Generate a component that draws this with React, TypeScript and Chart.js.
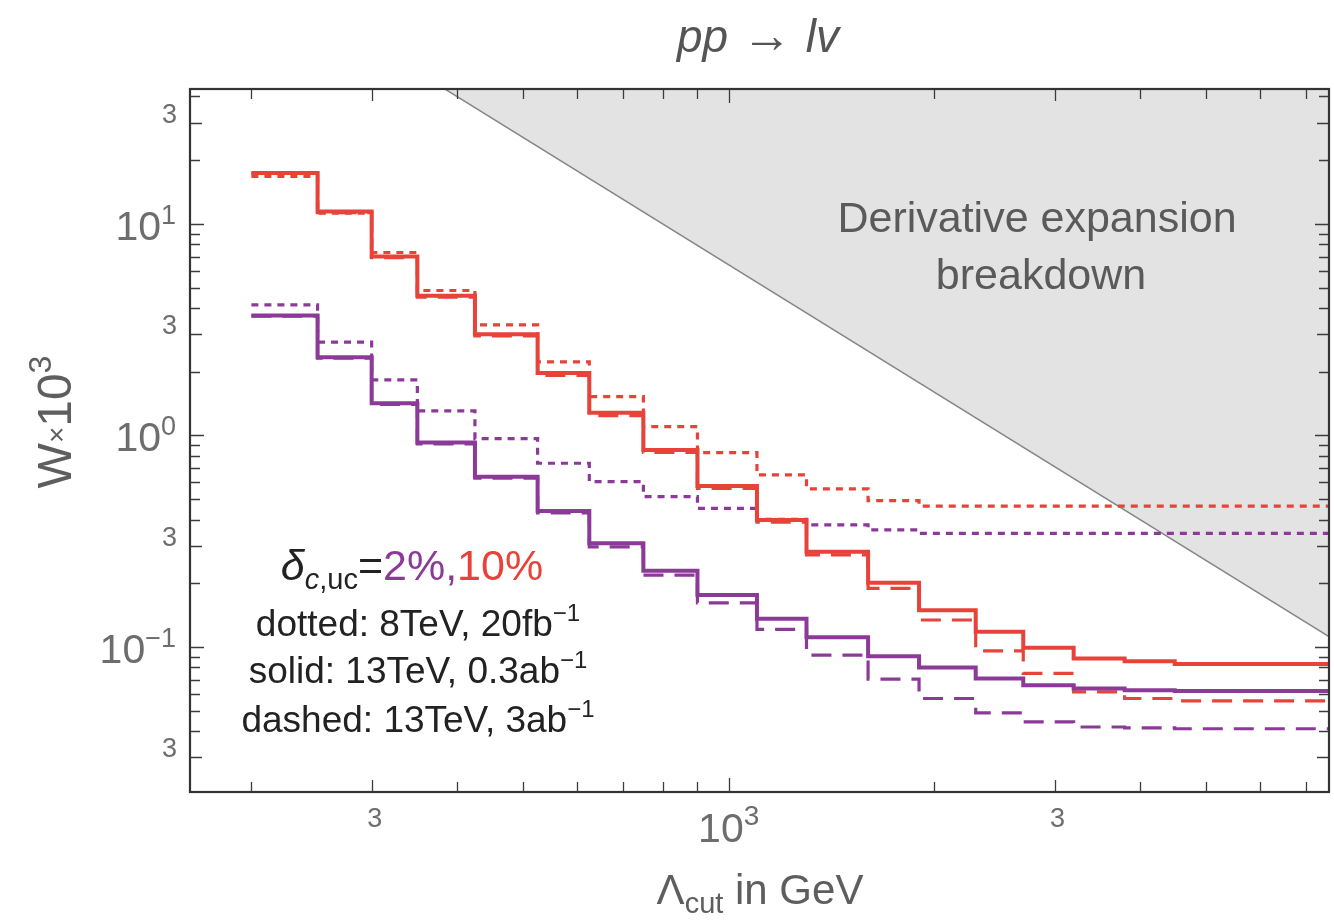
import React, { useEffect, useRef } from "react";
import { Chart, registerables } from "chart.js";

Chart.register(...registerables);

// ---------- data (GeV bin edges, W x 10^3 per bin) ----------
const edges13TeV = [200, 250, 300, 350, 425, 525, 625, 750, 900, 1100, 1300, 1600, 1900, 2300, 2700, 3200, 3800, 4500, 7600];
const edges8TeV = [200, 250, 300, 350, 425, 525, 625, 750, 900, 1100, 1300, 1600, 1900, 7600];

const red8TeVDotted = [16.75, 11.24, 7.32, 4.84, 3.33, 2.225, 1.524, 1.1, 0.828, 0.65, 0.558, 0.491, 0.463];
const red13TeVSolid = [17.4, 11.44, 7.01, 4.57, 3.01, 1.97, 1.28, 0.853, 0.576, 0.398, 0.282, 0.201, 0.149, 0.118, 0.099, 0.088, 0.0856, 0.0829];
const red13TeVDashed = [17.3, 11.3, 6.92, 4.5, 2.95, 1.92, 1.24, 0.83, 0.562, 0.389, 0.272, 0.189, 0.134, 0.0958, 0.0749, 0.0613, 0.057, 0.0556];
const purple8TeVDotted = [4.14, 2.757, 1.828, 1.304, 0.965, 0.738, 0.604, 0.513, 0.452, 0.401, 0.377, 0.357, 0.344];
const purple13TeVSolid = [3.685, 2.342, 1.419, 0.924, 0.638, 0.439, 0.309, 0.229, 0.176, 0.136, 0.111, 0.0904, 0.0799, 0.0709, 0.0659, 0.0636, 0.0624, 0.0619];
const purple13TeVDashed = [3.66, 2.32, 1.4, 0.91, 0.628, 0.43, 0.297, 0.2185, 0.1616, 0.1209, 0.0914, 0.0704, 0.057, 0.0488, 0.0442, 0.0418, 0.0414, 0.041];

// boundary of the "derivative expansion breakdown" region
const breakdownLambda = [300, 8000];
const breakdownW = [71.1, 0.1];

// axis ranges
const X_MIN = 162.6;
const X_MAX = 7570;
const Y_MIN = 0.0206;
const Y_MAX = 43.4;

// ticks
const tickMantissas = [1, 2, 3, 4, 5, 6, 7, 8, 9];
const xDecades = [100, 1000];
const yDecades = [0.01, 0.1, 1, 10];
const xTickLabels = [
  { v: 300, base: "3", exp: "" },
  { v: 1000, base: "10", exp: "3" },
  { v: 3000, base: "3", exp: "" },
];
const yTickLabels = [
  { v: 30, base: "3", exp: "" },
  { v: 10, base: "10", exp: "1" },
  { v: 3, base: "3", exp: "" },
  { v: 1, base: "10", exp: "0" },
  { v: 0.3, base: "3", exp: "" },
  { v: 0.1, base: "10", exp: "\u22121" },
  { v: 0.03, base: "3", exp: "" },
];

// ---------- styles ----------
const RED = "#e8433a";
const PURPLE = "#8c3a97";
const FONT = '"Liberation Sans", Arial, Helvetica, sans-serif';
const TICK_GRAY = "#6d6d6d";

type Part = { t: string; size: number; italic?: boolean; color?: string; dy?: number };

function fontOf(p: Part) {
  return `${p.italic ? "italic " : ""}${p.size}px ${FONT}`;
}

function drawRich(ctx: CanvasRenderingContext2D, parts: Part[], x: number, y: number, align: "left" | "center" | "right", color: string) {
  let w = 0;
  for (const p of parts) {
    ctx.font = fontOf(p);
    w += ctx.measureText(p.t).width;
  }
  let cx = align === "center" ? x - w / 2 : align === "right" ? x - w : x;
  ctx.textAlign = "left";
  ctx.textBaseline = "alphabetic";
  for (const p of parts) {
    ctx.font = fontOf(p);
    ctx.fillStyle = p.color || color;
    ctx.fillText(p.t, cx, y + (p.dy || 0));
    cx += ctx.measureText(p.t).width;
  }
}

function steps(edges: number[], vals: number[]) {
  return edges.map((x, i) => ({ x, y: vals[Math.min(i, vals.length - 1)] }));
}

const framePlugin = {
  id: "mmaFrame",
  afterDatasetsDraw(chart: any) {
    const { ctx, chartArea: a, scales } = chart;
    const xs = scales.x;
    const ys = scales.y;
    ctx.save();

    // breakdown text
    ctx.fillStyle = "#5a5a5a";
    ctx.font = `43px ${FONT}`;
    ctx.textAlign = "center";
    ctx.textBaseline = "alphabetic";
    ctx.fillText("Derivative expansion", 1037, 232);
    ctx.fillText("breakdown", 1041, 289);

    // ticks
    ctx.strokeStyle = "#3c3c3c";
    ctx.lineWidth = 1.3;
    ctx.beginPath();
    for (const d of xDecades) {
      for (const m of tickMantissas) {
        const v = m * d;
        if (v < X_MIN || v > X_MAX) continue;
        const px = Math.round(xs.getPixelForValue(v)) + 0.5;
        const len = m === 1 ? 14 : m === 3 ? 12 : 10;
        ctx.moveTo(px, a.bottom);
        ctx.lineTo(px, a.bottom - len);
        ctx.moveTo(px, a.top);
        ctx.lineTo(px, a.top + len);
      }
    }
    for (const d of yDecades) {
      for (const m of tickMantissas) {
        const v = m * d;
        if (v < Y_MIN || v > Y_MAX) continue;
        const py = Math.round(ys.getPixelForValue(v)) + 0.5;
        const len = m === 1 ? 14 : m === 3 ? 12 : 10;
        ctx.moveTo(a.left, py);
        ctx.lineTo(a.left + len, py);
        ctx.moveTo(a.right, py);
        ctx.lineTo(a.right - len, py);
      }
    }
    ctx.stroke();

    // frame
    ctx.strokeStyle = "#333333";
    ctx.lineWidth = 2.2;
    ctx.strokeRect(a.left, a.top, a.right - a.left, a.bottom - a.top);

    // x tick labels
    for (const t of xTickLabels) {
      const px = xs.getPixelForValue(t.v);
      if (t.exp) {
        drawRich(ctx, [
          { t: t.base, size: 41 },
          { t: t.exp, size: 28, dy: -17 },
        ], px, a.bottom + 50, "center", TICK_GRAY);
      } else {
        drawRich(ctx, [{ t: t.base, size: 27 }], px + 3, a.bottom + 35, "center", TICK_GRAY);
      }
    }
    // y tick labels
    for (const t of yTickLabels) {
      const py = ys.getPixelForValue(t.v);
      if (t.exp) {
        drawRich(ctx, [
          { t: t.base, size: 41 },
          { t: t.exp, size: 27, dy: -16 },
        ], 176, py + 16, "right", TICK_GRAY);
      } else {
        drawRich(ctx, [{ t: t.base, size: 27 }], 177, py + 0, "right", TICK_GRAY);
      }
    }

    // title
    drawRich(ctx, [
      { t: "pp", size: 46, italic: true },
      { t: " \u2192 ", size: 50 },
      { t: "lv", size: 46, italic: true },
    ], 758, 52, "center", "#555555");

    // x axis title
    drawRich(ctx, [
      { t: "\u039b", size: 42 },
      { t: "cut", size: 29, dy: 9 },
      { t: " in GeV", size: 42 },
    ], 760, 904, "center", "#5e5e5e");

    // y axis title (rotated)
    ctx.save();
    ctx.translate(54, 422);
    ctx.rotate(-Math.PI / 2);
    drawRich(ctx, [
      { t: "W", size: 48 },
      { t: "\u00d7", size: 28, dy: -5 },
      { t: "10", size: 48 },
      { t: "3", size: 32, dy: -20 },
    ], 0, 17, "center", "#5e5e5e");
    ctx.restore();

    // legend block
    drawRich(ctx, [
      { t: "\u03b4", size: 43, italic: true },
      { t: "c", size: 29, italic: true, dy: 9 },
      { t: ",uc", size: 29, dy: 9 },
      { t: "=", size: 43 },
      { t: "2%,", size: 43, color: PURPLE },
      { t: "10%", size: 43, color: RED },
    ], 412, 580, "center", "#222222");
    const legendLines = [
      ["dotted: 8TeV, 20fb", 636],
      ["solid: 13TeV, 0.3ab", 683],
      ["dashed: 13TeV, 3ab", 732],
    ] as const;
    for (const [txt, by] of legendLines) {
      drawRich(ctx, [
        { t: txt, size: 37 },
        { t: "\u22121", size: 24, dy: -15 },
      ], 418, by, "center", "#222222");
    }

    ctx.restore();
  },
};

export default function App() {
  const ref = useRef<HTMLCanvasElement | null>(null);

  useEffect(() => {
    document.body.style.margin = "0";
    const canvas = ref.current;
    if (!canvas) return;

    const base = { pointRadius: 0, fill: false, stepped: "before" as const, clip: 0, tension: 0 };

    const chart = new Chart(canvas, {
      type: "line",
      data: {
        datasets: [
          { ...base, label: "10% solid", data: steps(edges13TeV, red13TeVSolid), borderColor: RED, borderWidth: 4, order: 1 },
          { ...base, label: "2% solid", data: steps(edges13TeV, purple13TeVSolid), borderColor: PURPLE, borderWidth: 4, order: 2 },
          { ...base, label: "10% dashed", data: steps(edges13TeV, red13TeVDashed), borderColor: RED, borderWidth: 3.2, borderDash: [20, 11], order: 3 },
          { ...base, label: "2% dashed", data: steps(edges13TeV, purple13TeVDashed), borderColor: PURPLE, borderWidth: 3.2, borderDash: [20, 11], order: 4 },
          { ...base, label: "10% dotted", data: steps(edges8TeV, red8TeVDotted), borderColor: RED, borderWidth: 3.2, borderDash: [7, 6], order: 5 },
          { ...base, label: "2% dotted", data: steps(edges8TeV, purple8TeVDotted), borderColor: PURPLE, borderWidth: 3.2, borderDash: [7, 6], order: 6 },
          {
            label: "breakdown",
            data: breakdownLambda.map((x, i) => ({ x, y: breakdownW[i] })),
            borderColor: "#858585",
            borderWidth: 1.5,
            backgroundColor: "#e3e3e3",
            fill: "end",
            pointRadius: 0,
            clip: 0,
            order: 10,
          },
        ],
      },
      options: {
        animation: false,
        responsive: false,
        devicePixelRatio: 1,
        layout: { padding: { left: 190, top: 89, right: 5, bottom: 128 } },
        plugins: { legend: { display: false }, tooltip: { enabled: false }, title: { display: false } },
        events: [],
        scales: {
          x: { type: "logarithmic", min: X_MIN, max: X_MAX, bounds: "data", display: false },
          y: { type: "logarithmic", min: Y_MIN, max: Y_MAX, bounds: "data", display: false },
        },
      },
      plugins: [framePlugin],
    });
    return () => chart.destroy();
  }, []);

  return <canvas ref={ref} width={1334} height={920} style={{ display: "block" }} />;
}
